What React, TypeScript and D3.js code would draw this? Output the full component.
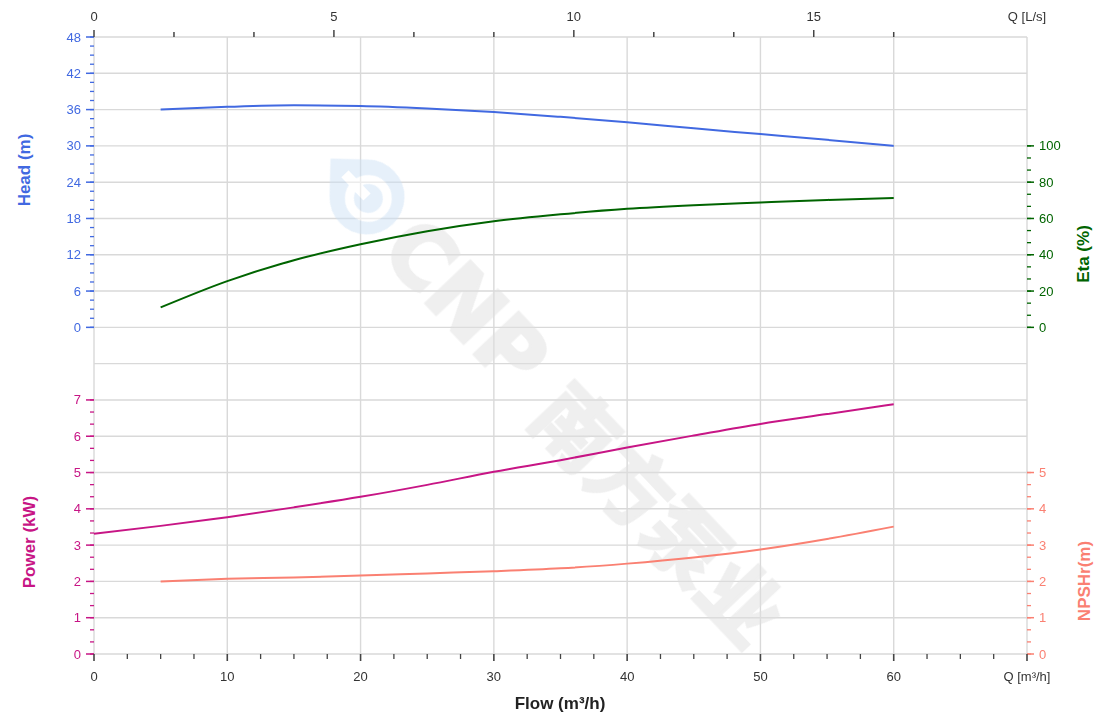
import React from "react";
import * as d3 from "d3";

// ---------- data ----------
const flowQ = [5, 10, 15, 20, 25, 30, 35, 40, 45, 50, 55, 60]; // m³/h
const headValues = [36.0, 36.45, 36.7, 36.6, 36.2, 35.6, 34.8, 33.9, 32.9, 31.95, 31.0, 30.0];
const etaValues = [11.0, 25.5, 37.0, 45.8, 53.0, 58.5, 62.3, 65.3, 67.3, 68.8, 70.2, 71.3];
const powerQ = [0, 5, 10, 15, 20, 25, 30, 35, 40, 45, 50, 55, 60];
const powerValues = [3.31, 3.53, 3.77, 4.04, 4.33, 4.66, 5.02, 5.34, 5.69, 6.02, 6.34, 6.61, 6.88];
const npshValues = [2.0, 2.07, 2.11, 2.16, 2.22, 2.28, 2.36, 2.49, 2.66, 2.88, 3.17, 3.51];

const headTicks = [0, 6, 12, 18, 24, 30, 36, 42, 48];
const powerTicks = [0, 1, 2, 3, 4, 5, 6, 7];
const etaTicks = [0, 20, 40, 60, 80, 100];
const npshTicks = [0, 1, 2, 3, 4, 5];
const flowTickLabels = [0, 10, 20, 30, 40, 50, 60];
const lsTickLabels = [0, 5, 10, 15];

const COLORS = {
  head: "#4169e1",
  eta: "#006400",
  power: "#c71585",
  npsh: "#fa8072",
  grid: "#d9d9d9",
  axis: "#444444",
  text: "#333333",
};

const FONT = "Arial, 'Liberation Sans', Helvetica, sans-serif";

export default function App() {
  const W = 1120;
  const H = 718;
  const left = 94;
  const right = 1027;
  const top = 37;
  const bottom = 654;
  const u = (bottom - top) / 17;

  const x = d3.scaleLinear().domain([0, 70]).range([left, right]);
  const xLs = d3.scaleLinear().domain([0, 70 / 3.6]).range([left, right]);
  const yHead = d3.scaleLinear().domain([0, 48]).range([top + 8 * u, top]);
  const yPow = d3.scaleLinear().domain([0, 7]).range([bottom, bottom - 7 * u]);
  const yEta = d3.scaleLinear().domain([0, 100]).range([top + 8 * u, top + 3 * u]);
  const yNpsh = d3.scaleLinear().domain([0, 5]).range([bottom, bottom - 5 * u]);

  const mk = (ys: (v: number) => number, qs: number[], vals: number[]) =>
    d3
      .line<number>()
      .x((_, i) => x(qs[i]))
      .y((v) => ys(v))
      .curve(d3.curveMonotoneX)(vals) || "";

  const headPath = mk(yHead, flowQ, headValues);
  const etaPath = mk(yEta, flowQ, etaValues);
  const powPath = mk(yPow, powerQ, powerValues);
  const npshPath = mk(yNpsh, flowQ, npshValues);

  // grid
  const hGridHead = d3.range(-6, 49, 6).map((v) => yHead(v));
  const hGridPow = powerTicks.map((v) => yPow(v));
  const vGrid = d3.range(0, 71, 10).map((v) => x(v));

  // minor ticks
  const headMinor = d3.range(0, 48.01, 1.5);
  const powMinor = d3.range(0, 7.001, 1 / 3);
  const etaMinor = d3.range(0, 100.01, 20 / 3);
  const npshMinor = d3.range(0, 5.001, 1 / 3);
  const flowMinor = d3.range(0, 70.01, 2.5);
  const topTicksQ = d3.range(0, 60.01, 6);

  const leftAxis = (
    ys: d3.ScaleLinear<number, number>,
    major: number[],
    minor: number[],
    color: string,
    key: string
  ) => (
    <g key={key}>
      {minor.map((v, i) => (
        <line key={"mi" + i} x1={left - 4} x2={left} y1={ys(v)} y2={ys(v)} stroke={color} strokeWidth={1.3} />
      ))}
      {major.map((v) => (
        <g key={"ma" + v}>
          <line x1={left - 8} x2={left} y1={ys(v)} y2={ys(v)} stroke={color} strokeWidth={1.5} />
          <text x={left - 13} y={ys(v)} dy="0.35em" textAnchor="end" fill={color} fontSize={13} fontFamily={FONT}>
            {v}
          </text>
        </g>
      ))}
    </g>
  );

  const rightAxis = (
    ys: d3.ScaleLinear<number, number>,
    major: number[],
    minor: number[],
    color: string,
    key: string
  ) => (
    <g key={key}>
      {minor.map((v, i) => (
        <line key={"mi" + i} x1={right} x2={right + 4} y1={ys(v)} y2={ys(v)} stroke={color} strokeWidth={1.3} />
      ))}
      {major.map((v) => (
        <g key={"ma" + v}>
          <line x1={right} x2={right + 7} y1={ys(v)} y2={ys(v)} stroke={color} strokeWidth={1.5} />
          <text x={right + 12} y={ys(v)} dy="0.35em" textAnchor="start" fill={color} fontSize={13} fontFamily={FONT}>
            {v}
          </text>
        </g>
      ))}
    </g>
  );

  const vTitle = (label: string, cx: number, cy: number, color: string) => (
    <text
      transform={`translate(${cx},${cy}) rotate(-90)`}
      textAnchor="middle"
      dominantBaseline="central"
      fill={color}
      fontSize={17}
      fontWeight="bold"
      fontFamily={FONT}
    >
      {label}
    </text>
  );

  return (
    <svg
      width={W}
      height={H}
      viewBox={`0 0 ${W} ${H}`}
      style={{ position: "absolute", left: 0, top: 0, background: "#fff" }}
    >
      <rect x={0} y={0} width={W} height={H} fill="#ffffff" />

      {/* grid */}
      <g stroke={COLORS.grid} strokeWidth={1.4}>
        {hGridHead.map((y, i) => (
          <line key={"hh" + i} x1={left} x2={right} y1={y} y2={y} />
        ))}
        {hGridPow.map((y, i) => (
          <line key={"hp" + i} x1={left} x2={right} y1={y} y2={y} />
        ))}
        {vGrid.map((xx, i) => (
          <line key={"v" + i} x1={xx} x2={xx} y1={top} y2={bottom} />
        ))}
      </g>

      {/* watermark */}
      <g opacity={0.5}>
        <g transform="translate(367,197) rotate(46.5)">
          <path d="M -53 0 L -26.5 -26.5 A 37.5 37.5 0 1 1 -26.5 26.5 Z" fill="#cde1f5" />
          <circle cx={2} cy={0} r={19} fill="none" stroke="#ffffff" strokeWidth={9} />
          <rect x={-32} y={-5} width={32} height={10} fill="#ffffff" />
        </g>
        <text
          transform="translate(586,430) rotate(46.5)"
          textAnchor="middle"
          dominantBaseline="central"
          fill="#dedede"
          stroke="#dedede"
          strokeWidth={3}
          fontWeight="bold"
          fontFamily="'Noto Sans CJK SC', 'DejaVu Sans', sans-serif"
        >
          <tspan fontSize={84} fontFamily="'DejaVu Sans', Arial, sans-serif">
            CNP{" "}
          </tspan>
          <tspan fontSize={80}>南方泵业</tspan>
        </text>
      </g>

      {/* curves */}
      <path d={headPath} fill="none" stroke={COLORS.head} strokeWidth={2} />
      <path d={etaPath} fill="none" stroke={COLORS.eta} strokeWidth={2} />
      <path d={powPath} fill="none" stroke={COLORS.power} strokeWidth={2} />
      <path d={npshPath} fill="none" stroke={COLORS.npsh} strokeWidth={2} />

      {/* left axes */}
      {leftAxis(yHead, headTicks, headMinor, COLORS.head, "head")}
      {leftAxis(yPow, powerTicks, powMinor, COLORS.power, "pow")}
      {/* right axes */}
      {rightAxis(yEta, etaTicks, etaMinor, COLORS.eta, "eta")}
      {rightAxis(yNpsh, npshTicks, npshMinor, COLORS.npsh, "npsh")}

      {/* bottom axis */}
      <g>
        {flowMinor.map((v, i) => {
          const major = Math.abs(v % 10) < 1e-6;
          return (
            <line
              key={"bt" + i}
              x1={x(v)}
              x2={x(v)}
              y1={bottom}
              y2={bottom + (major ? 7 : 5)}
              stroke={COLORS.axis}
              strokeWidth={major ? 1.6 : 1.3}
            />
          );
        })}
        {flowTickLabels.map((v) => (
          <text key={"bl" + v} x={x(v)} y={681} textAnchor="middle" fill={COLORS.text} fontSize={13} fontFamily={FONT}>
            {v}
          </text>
        ))}
        <text x={x(70)} y={681} textAnchor="middle" fill={COLORS.text} fontSize={13} fontFamily={FONT}>
          Q [m³/h]
        </text>
        <text x={560} y={709} textAnchor="middle" fill="#222" fontSize={17} fontWeight="bold" fontFamily={FONT}>
          Flow (m³/h)
        </text>
      </g>

      {/* top axis (L/s) */}
      <g>
        {topTicksQ.map((q, i) => {
          const ls = q / 3.6;
          const major = lsTickLabels.some((l) => Math.abs(l - ls) < 1e-6);
          return (
            <line
              key={"tt" + i}
              x1={x(q)}
              x2={x(q)}
              y1={top}
              y2={top - (major ? 7 : 5)}
              stroke={COLORS.axis}
              strokeWidth={1.5}
            />
          );
        })}
        {lsTickLabels.map((v) => (
          <text key={"tl" + v} x={xLs(v)} y={21} textAnchor="middle" fill={COLORS.text} fontSize={13} fontFamily={FONT}>
            {v}
          </text>
        ))}
        <text x={right} y={21} textAnchor="middle" fill={COLORS.text} fontSize={13} fontFamily={FONT}>
          Q [L/s]
        </text>
      </g>

      {/* axis titles */}
      {vTitle("Head (m)", 24, 170, COLORS.head)}
      {vTitle("Power (kW)", 29, 542, COLORS.power)}
      {vTitle("Eta (%)", 1083, 254, COLORS.eta)}
      {vTitle("NPSHr(m)", 1084, 581, COLORS.npsh)}
    </svg>
  );
}
